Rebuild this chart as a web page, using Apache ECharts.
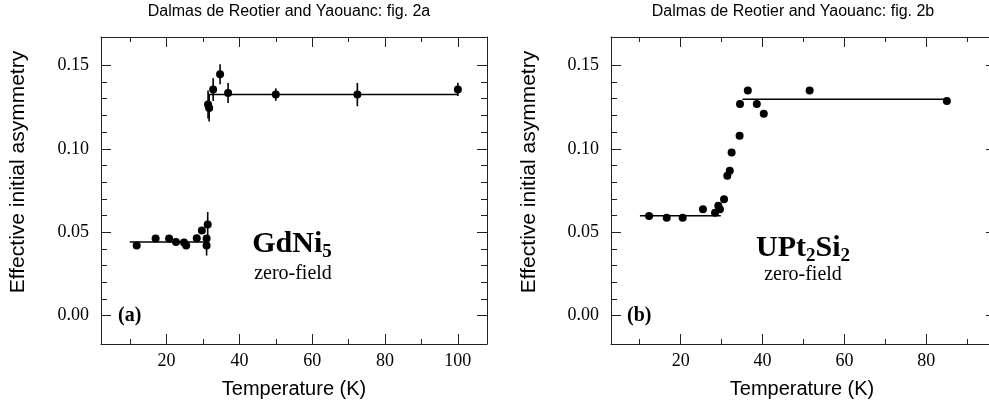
<!DOCTYPE html>
<html><head><meta charset="utf-8">
<script src="https://cdn.jsdelivr.net/npm/echarts@6/dist/echarts.min.js"></script>
<style>html,body{margin:0;padding:0;background:#fff}#c{width:989px;height:406px}</style>
</head><body><div id="c"></div>
<script>
// ---- Panel (a): GdNi5 ----
const tempA = [11.8, 17.0, 20.7, 22.6, 24.8, 25.4, 28.3, 29.7, 31.0, 31.0, 31.3, 31.4, 31.7, 32.8, 34.7, 36.9, 50.0, 72.4, 100.0];
const asymA = [0.0420, 0.0462, 0.0462, 0.0442, 0.0438, 0.0420, 0.0464, 0.0510, 0.0462, 0.0420, 0.0546, 0.1266, 0.1244, 0.1355, 0.1447, 0.1334, 0.1325, 0.1325, 0.1356];
const errA  = [0.002, 0.002, 0.002, 0.002, 0.002, 0.002, 0.002, 0.002, 0.002, 0.006, 0.0075, 0.0084, 0.0080, 0.0068, 0.0060, 0.0060, 0.0037, 0.0070, 0.0040];
const fitLowA  = { t: [9.9, 31.0], a: 0.0442 };
const fitHighA = { t: [31.45, 100.0], a: 0.1325 };

// ---- Panel (b): UPt2Si2 ----
const tempB = [12.3, 16.6, 20.5, 25.45, 28.4, 29.2, 29.6, 30.6, 31.4, 32.0, 32.45, 34.4, 34.5, 36.4, 38.6, 40.3, 51.5, 85.0];
const asymB = [0.0597, 0.0587, 0.0587, 0.0637, 0.0617, 0.0659, 0.0637, 0.0697, 0.0838, 0.0868, 0.0978, 0.1078, 0.1269, 0.1350, 0.1269, 0.1210, 0.1350, 0.1287];
const fitLowB  = { t: [10.06, 29.8], a: 0.0599 };
const fitHighB = { t: [35.1, 85.0], a: 0.1297 };

// ---- Axes ticks ----
const xMajorA = [20, 40, 60, 80, 100];
const xMinorA = [10, 30, 50, 70, 90];
const xMajorB = [20, 40, 60, 80];
const xMinorB = [10, 30, 50, 70, 90];
const yMajor = [0, 0.05, 0.10, 0.15];
const yMinor = [0.01, 0.02, 0.03, 0.04, 0.06, 0.07, 0.08, 0.09, 0.11, 0.12, 0.13, 0.14];

const titleA = 'Dalmas de Reotier and Yaouanc: fig. 2a';
const titleB = 'Dalmas de Reotier and Yaouanc: fig. 2b';
const xName = 'Temperature (K)';
const yName = 'Effective initial asymmetry';

const LINE = '#222';
const SERIF = 'Liberation Serif';
const SANS = 'Liberation Sans';

function xAxes(g, min, max, maj, mnr) {
  const base = () => ({ type: 'value', gridIndex: g, min, max, splitLine: { show: false }, silent: true,
    axisLine: { show: true, onZero: false, lineStyle: { color: LINE, width: 1 } } });
  const tick = (vals, len) => ({ show: true, inside: true, length: len, customValues: vals, lineStyle: { color: LINE, width: 1 } });
  return [
    Object.assign(base(), { position: 'bottom', axisTick: tick(maj, 10),
      axisLabel: { customValues: maj, margin: 8, color: '#000', fontFamily: SERIF, fontSize: 18 } }),
    Object.assign(base(), { position: 'bottom', axisLine: { show: false, onZero: false }, axisTick: tick(mnr, 5), axisLabel: { show: false } }),
    Object.assign(base(), { position: 'top', axisTick: tick(maj, 10), axisLabel: { show: false } }),
    Object.assign(base(), { position: 'top', axisLine: { show: false, onZero: false }, axisTick: tick(mnr, 5), axisLabel: { show: false } })
  ];
}
function yAxes(g, min, max, maj, mnr) {
  const base = () => ({ type: 'value', gridIndex: g, min, max, splitLine: { show: false }, silent: true,
    axisLine: { show: true, onZero: false, lineStyle: { color: LINE, width: 1 } } });
  const tick = (vals, len) => ({ show: true, inside: true, length: len, customValues: vals, lineStyle: { color: LINE, width: 1 } });
  return [
    Object.assign(base(), { position: 'left', axisTick: tick(maj, 10),
      axisLabel: { customValues: maj, margin: 12, color: '#000', fontFamily: SERIF, fontSize: 18, formatter: v => v.toFixed(2) } }),
    Object.assign(base(), { position: 'left', axisLine: { show: false, onZero: false }, axisTick: tick(mnr, 6), axisLabel: { show: false } }),
    Object.assign(base(), { position: 'right', axisTick: tick(maj, 10), axisLabel: { show: false } }),
    Object.assign(base(), { position: 'right', axisLine: { show: false, onZero: false }, axisTick: tick(mnr, 6), axisLabel: { show: false } })
  ];
}

const zip = (xs, ys) => xs.map((x, i) => [x, ys[i]]);
const fitLine = (f, g) => ({
  type: 'line', xAxisIndex: 4 * g, yAxisIndex: 4 * g, silent: true, showSymbol: false, symbol: 'none',
  data: [[f.t[0], f.a], [f.t[1], f.a]], lineStyle: { color: '#000', width: 1.5, opacity: 1 }, z: 3
});
const scatter = (xs, ys, g) => ({
  type: 'scatter', xAxisIndex: 4 * g, yAxisIndex: 4 * g, silent: true, symbol: 'circle', symbolSize: 8,
  itemStyle: { color: '#000', opacity: 1 }, data: zip(xs, ys), z: 5
});

const errData = tempA.map((t, i) => [t, asymA[i], errA[i]]);
const errSeries = {
  type: 'custom', xAxisIndex: 0, yAxisIndex: 0, silent: true, z: 4,
  renderItem: (params, api) => {
    const x = api.value(0), y = api.value(1), e = api.value(2);
    const p1 = api.coord([x, y + e]);
    const p2 = api.coord([x, y - e]);
    return { type: 'line', shape: { x1: p1[0], y1: p1[1], x2: p2[0], y2: p2[1] }, style: { stroke: '#000', lineWidth: 1.6 } };
  },
  data: errData
};

const yMin = -0.017, yMax = 0.167;
const formulaRich = {
  b: { fontFamily: SERIF, fontWeight: 'bold', fontSize: 30, lineHeight: 30, fill: '#000' },
  s: { fontFamily: SERIF, fontWeight: 'bold', fontSize: 19, lineHeight: 19, padding: [16, 0, 0, 0], fill: '#000' }
};

const option = {
  animation: false,
  backgroundColor: '#fff',
  grid: [
    { left: 101, top: 37, width: 386, height: 307, outerBoundsMode: 'none', containLabel: false },
    { left: 611, top: 37, width: 385, height: 307, outerBoundsMode: 'none', containLabel: false }
  ],
  xAxis: [].concat(xAxes(0, 2, 108, xMajorA, xMinorA), xAxes(1, 3, 97, xMajorB, xMinorB)),
  yAxis: [].concat(yAxes(0, yMin, yMax, yMajor, yMinor), yAxes(1, yMin, yMax, yMajor, yMinor)),
  series: [
    fitLine(fitLowA, 0), fitLine(fitHighA, 0), errSeries, scatter(tempA, asymA, 0),
    fitLine(fitLowB, 1), fitLine(fitHighB, 1), scatter(tempB, asymB, 1)
  ],
  graphic: [
    { type: 'text', x: 289, y: 12, style: { text: titleA, font: '16px "Liberation Sans"', fill: '#000', align: 'center', verticalAlign: 'middle' } },
    { type: 'text', x: 793, y: 12, style: { text: titleB, font: '16px "Liberation Sans"', fill: '#000', align: 'center', verticalAlign: 'middle' } },
    { type: 'text', x: 294, y: 389, style: { text: xName, font: '20px "Liberation Sans"', fill: '#000', align: 'center', verticalAlign: 'middle' } },
    { type: 'text', x: 802, y: 389, style: { text: xName, font: '20px "Liberation Sans"', fill: '#000', align: 'center', verticalAlign: 'middle' } },
    { type: 'text', x: 18, y: 172, rotation: Math.PI / 2, style: { text: yName, font: '21px "Liberation Sans"', fill: '#000', align: 'center', verticalAlign: 'middle' } },
    { type: 'text', x: 529, y: 172, rotation: Math.PI / 2, style: { text: yName, font: '21px "Liberation Sans"', fill: '#000', align: 'center', verticalAlign: 'middle' } },
    { type: 'text', x: 292, y: 244, style: { text: '{b|GdNi}{s|5}', align: 'center', verticalAlign: 'middle', rich: formulaRich } },
    { type: 'text', x: 293, y: 274, style: { text: 'zero-field', font: '20px "Liberation Serif"', fill: '#000', align: 'center', verticalAlign: 'middle' } },
    { type: 'text', x: 118, y: 316, style: { text: '(a)', font: 'bold 20px "Liberation Serif"', fill: '#000', align: 'left', verticalAlign: 'middle' } },
    { type: 'text', x: 803, y: 248, style: { text: '{b|UPt}{s|2}{b|Si}{s|2}', align: 'center', verticalAlign: 'middle', rich: formulaRich } },
    { type: 'text', x: 803, y: 275, style: { text: 'zero-field', font: '20px "Liberation Serif"', fill: '#000', align: 'center', verticalAlign: 'middle' } },
    { type: 'text', x: 627, y: 316, style: { text: '(b)', font: 'bold 20px "Liberation Serif"', fill: '#000', align: 'left', verticalAlign: 'middle' } }
  ]
};
const chart = echarts.init(document.getElementById('c'), null, { renderer: 'canvas' });
chart.setOption(option);
</script>
</body></html>
